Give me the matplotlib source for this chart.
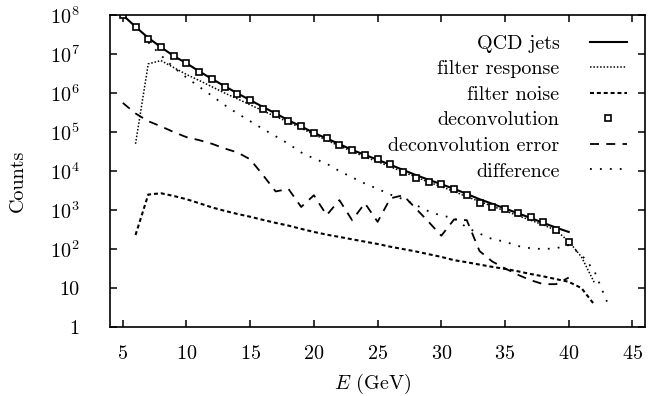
import matplotlib
matplotlib.use("Agg")
import matplotlib.pyplot as plt

plt.rcParams['font.family'] = 'serif'
plt.rcParams['font.serif'] = ['cmr10', 'DejaVu Serif']
plt.rcParams['mathtext.fontset'] = 'cm'
plt.rcParams['axes.formatter.use_mathtext'] = True

# energies (GeV)
e_qcd = list(range(5, 41))
e_fresp = list(range(6, 43))
e_fnoise = list(range(6, 43))
e_deconv = list(range(5, 41))
e_err = list(range(5, 41))
e_diff = list(range(7, 44))

qcd = [1.0e8, 5.0e7, 2.6e7, 1.5e7, 8.9e6, 5.8e6, 3.6e6, 2.3e6, 1.5e6, 9.8e5,
       6.6e5, 4.4e5, 3.0e5, 2.0e5, 1.4e5, 9.5e4, 6.9e4, 4.9e4, 3.5e4, 2.6e4,
       1.95e4, 1.45e4, 1.07e4, 7.9e3, 6.0e3, 4.6e3, 3.5e3, 2.6e3, 1.9e3, 1.45e3,
       1.1e3, 830, 630, 470, 355, 275]

fresp = [5.0e4, 5.6e6, 6.8e6, 4.5e6, 3.0e6, 2.1e6, 1.45e6, 1.0e6, 7.1e5, 5.0e5,
         3.5e5, 2.5e5, 1.8e5, 1.26e5, 8.7e4, 6.2e4, 4.4e4, 3.2e4, 2.3e4, 1.74e4,
         1.29e4, 9.5e3, 7.1e3, 5.2e3, 4.0e3, 3.0e3, 2.2e3, 1.66e3, 1.26e3, 955,
         724, 550, 417, 302, 158, 63, 14]

fnoise = [230, 2500, 2700, 2300, 1900, 1500, 1170, 955, 795, 675,
          560, 470, 400, 330, 275, 235, 205, 178, 155, 135,
          115, 100, 87, 74, 63, 52, 46, 40, 35, 31,
          27, 23, 20, 17, 14.5, 10, 3.8]

deconv = [1.0e8, 4.8e7, 2.5e7, 1.5e7, 8.9e6, 5.8e6, 3.5e6, 2.3e6, 1.4e6, 9.5e5,
          6.6e5, 3.9e5, 2.9e5, 1.95e5, 1.4e5, 9.3e4, 6.9e4, 4.7e4, 3.5e4, 2.6e4,
          2.0e4, 1.5e4, 9.5e3, 6.8e3, 5.4e3, 4.7e3, 3.4e3, 2.4e3, 1.5e3, 1.2e3,
          1.07e3, 850, 680, 500, 316, 155]

err = [5.6e5, 3.0e5, 1.9e5, 1.4e5, 1.0e5, 7.4e4, 6.2e4, 5.0e4, 3.8e4, 3.0e4,
       2.0e4, 7.9e3, 3.0e3, 3.5e3, 1.2e3, 2.4e3, 740, 1.8e3, 550, 1.5e3,
       500, 2.0e3, 2.4e3, 1.1e3, 500, 220, 575, 550, 89, 48,
       32, 22, 16, 12.6, 12.6, 18.6]

diff = [2.0e7, 9.3e6, 4.5e6, 2.5e6, 1.45e6, 8.5e5, 4.9e5, 3.0e5, 1.9e5, 1.2e5,
        7.8e4, 5.0e4, 3.0e4, 2.1e4, 1.55e4, 1.0e4, 6.9e3, 4.8e3, 3.5e3, 2.5e3,
        1.9e3, 1.35e3, 930, 720, 630, 355, 250, 180, 155, 120,
        105, 100, 105, 126, 71, 28, 4.5]

y_ticks = [1, 10, 1e2, 1e3, 1e4, 1e5, 1e6, 1e7, 1e8]
y_labels = ['1', '10', r'$10^2$', r'$10^3$', r'$10^4$', r'$10^5$',
            r'$10^6$', r'$10^7$', r'$10^8$']
x_ticks = [5, 10, 15, 20, 25, 30, 35, 40, 45]

fs = 14.5

fig = plt.figure(figsize=(6.55, 3.96), dpi=100)
ax = fig.add_axes([0.168, 0.174, 0.817, 0.788])

ax.semilogy(e_qcd, qcd, color='black', lw=1.5, label='QCD jets')
ax.semilogy(e_fresp, fresp, color='black', lw=1.1, ls=(0, (1, 1.2)),
            label='filter response')
ax.semilogy(e_fnoise, fnoise, color='black', lw=1.5, ls=(0, (1.9, 1.4)),
            label='filter noise')
ax.semilogy(e_deconv, deconv, ls='none', marker='s', ms=4.5, mfc='white',
            mec='black', mew=1.2, label='deconvolution')
ax.semilogy(e_err, err, color='black', lw=1.3, ls=(0, (5, 4)),
            label='deconvolution error')
ax.semilogy(e_diff, diff, color='black', lw=1.3, ls=(0, (1, 4.5)),
            label='difference')

ax.set_xlim(4, 46)
ax.set_ylim(1, 1e8)
ax.set_xticks(x_ticks)
ax.set_yticks(y_ticks)
ax.set_yticklabels(y_labels)
ax.minorticks_off()
ax.tick_params(direction='in', length=5, width=1.1, top=True, right=True,
               labelsize=fs)
ax.tick_params(axis='y', pad=22)
ax.tick_params(axis='x', pad=13)
for s in ax.spines.values():
    s.set_linewidth(1.2)

ax.set_xlabel(r'$E$ (GeV)', fontsize=fs)
ax.set_ylabel('Counts', fontsize=fs)
ax.xaxis.set_label_coords(0.49, -0.145, transform=ax.transAxes)
ax.yaxis.set_label_coords(-0.155, 0.47, transform=ax.transAxes)
ax.xaxis.label.set_va('top')

ax.legend(loc='upper right', bbox_to_anchor=(0.966, 0.937), frameon=False,
          markerfirst=False, fontsize=fs, handlelength=1.85, numpoints=1,
          handletextpad=1.5, labelspacing=0.37, borderaxespad=0,
          borderpad=0)

fig.savefig('out.png', dpi=100)
